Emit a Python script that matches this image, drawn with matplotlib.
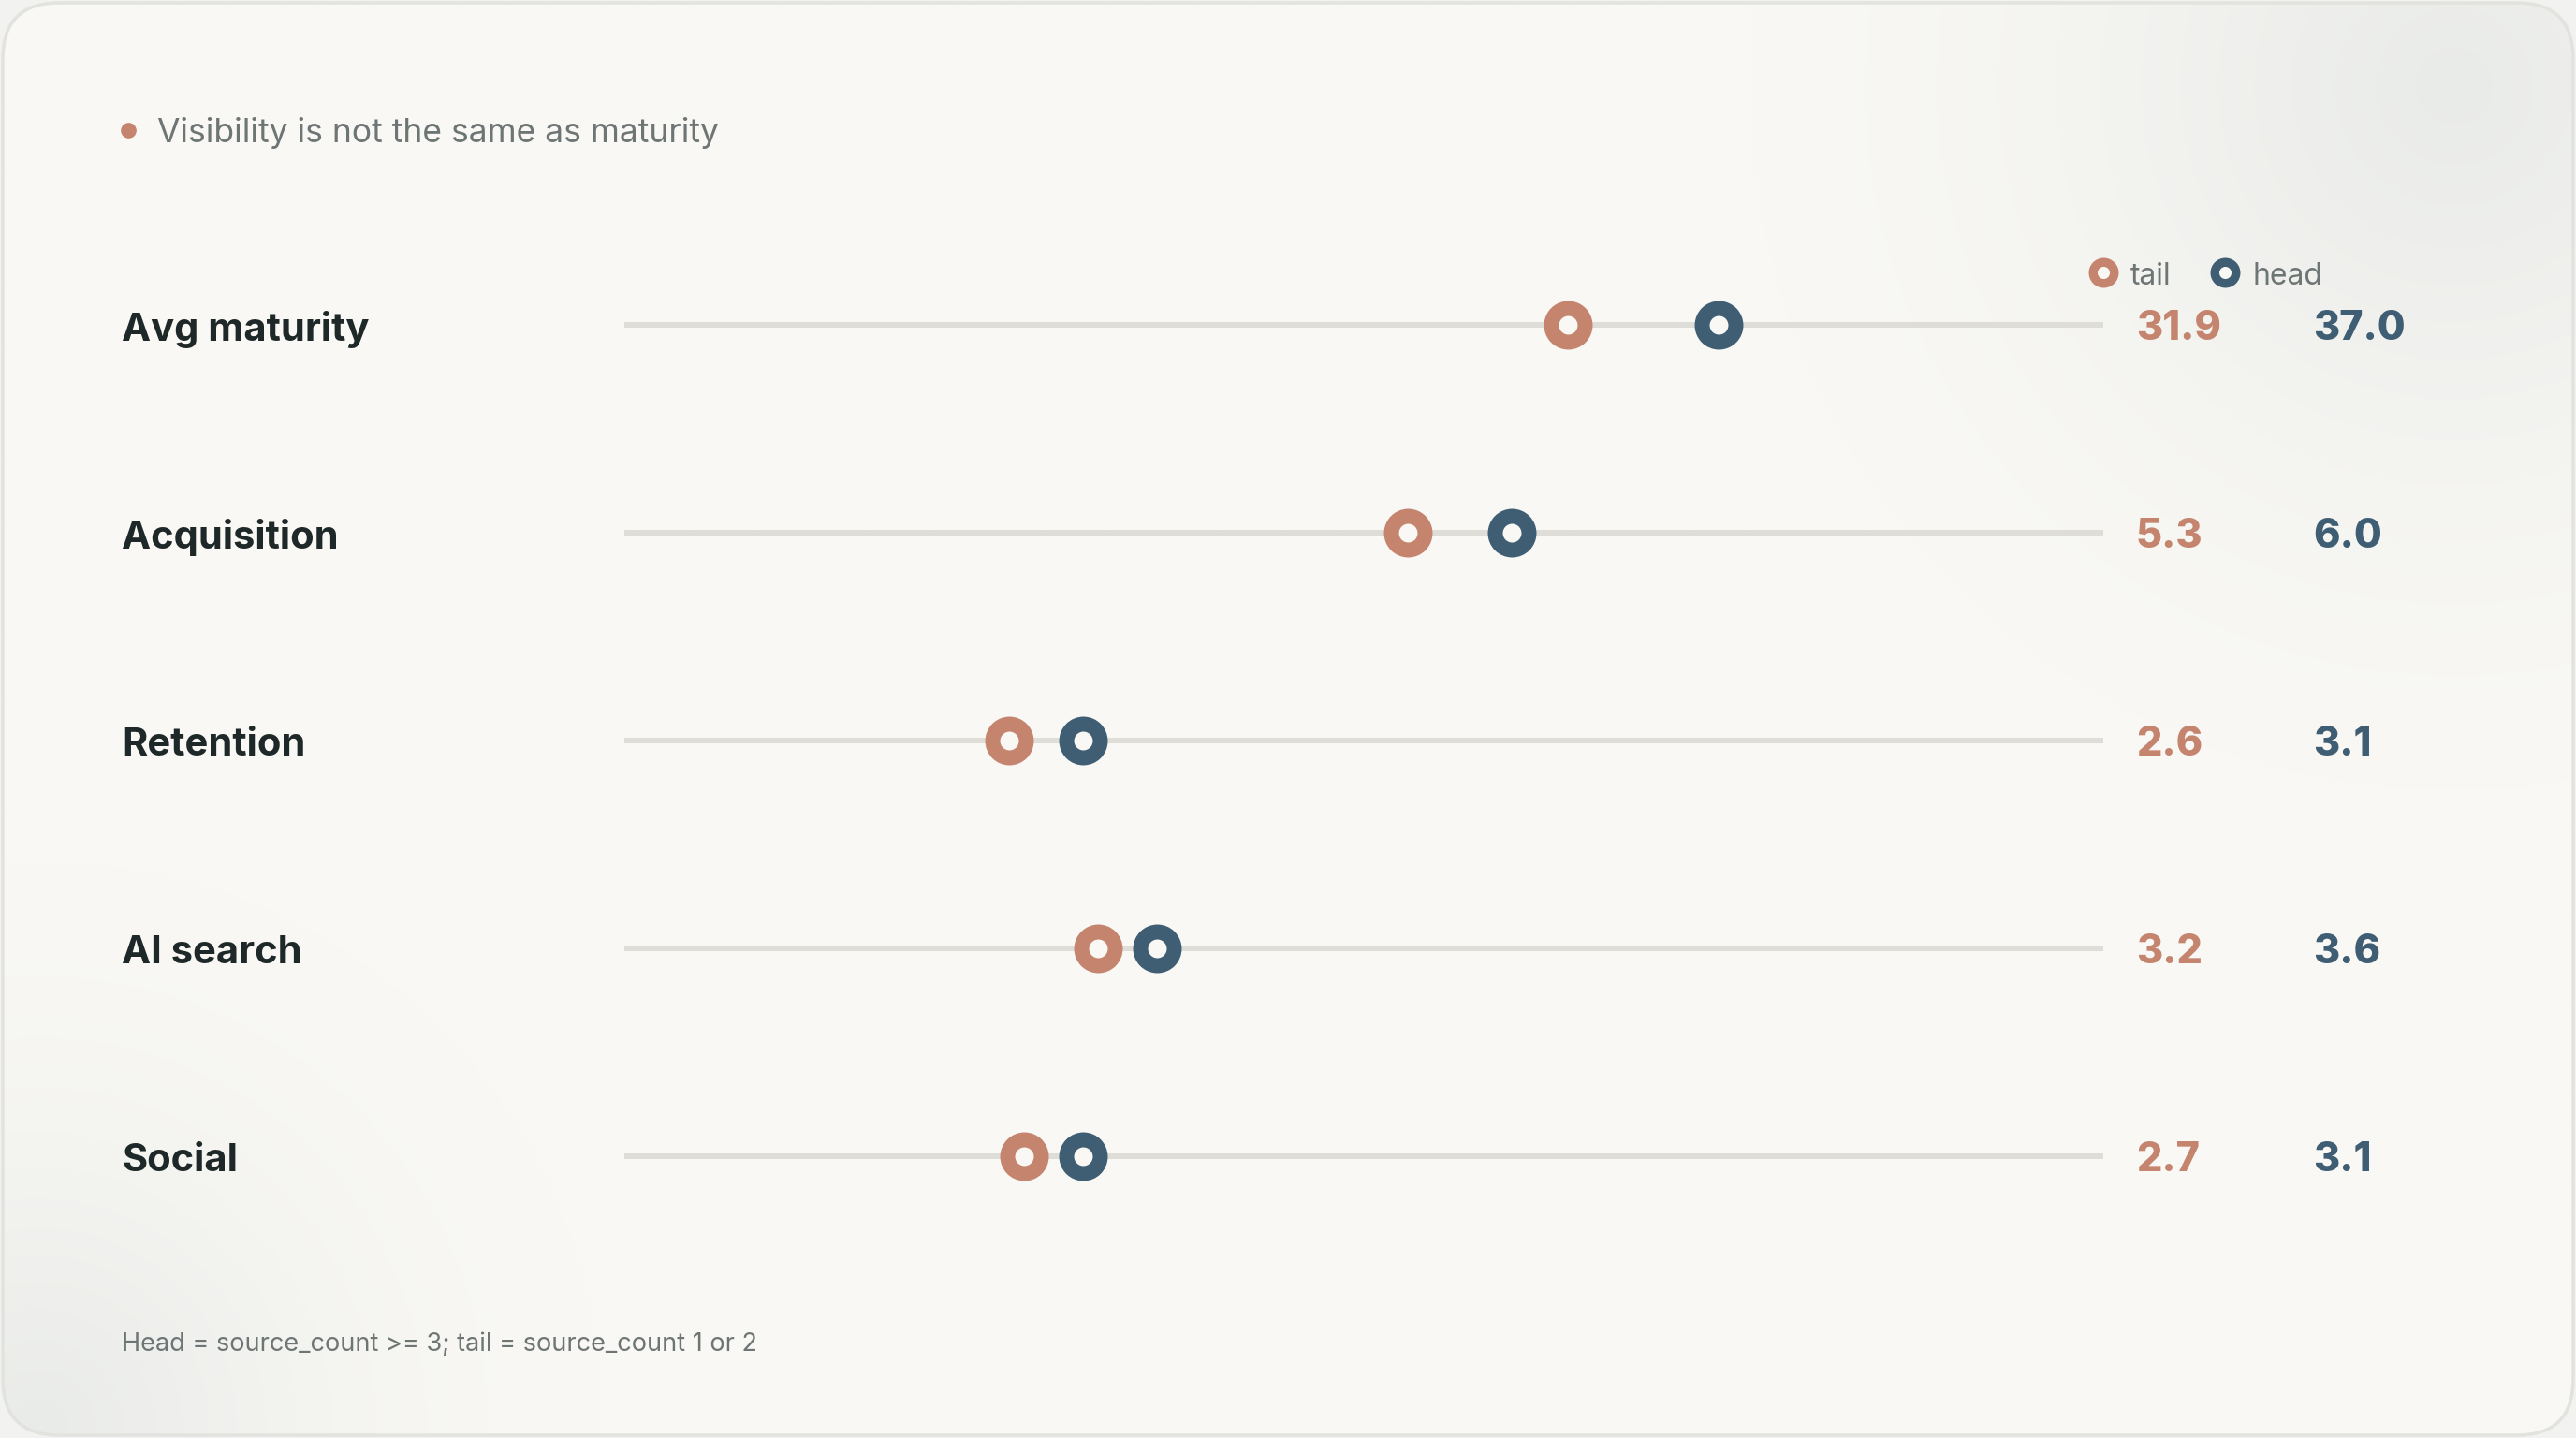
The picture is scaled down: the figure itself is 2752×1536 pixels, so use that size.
import numpy as np
import matplotlib
matplotlib.use("Agg")
import matplotlib.pyplot as plt
from matplotlib.patches import FancyBboxPatch
from matplotlib.transforms import blended_transform_factory

# ---- data ----
categories = ["Avg maturity", "Acquisition", "Retention", "AI search", "Social"]
tail_values = [31.9, 5.3, 2.6, 3.2, 2.7]
head_values = [37.0, 6.0, 3.1, 3.6, 3.1]
scale_max = [50, 10, 10, 10, 10]
title_text = "Visibility is not the same as maturity"
footnote_text = "Head = source_count >= 3; tail = source_count 1 or 2"
series_names = ["tail", "head"]

# ---- style ----
TAIL = "#C4846D"
HEAD = "#3F5E73"
TRACK = "#DEDDD8"
LABEL = "#1F2828"
MUTED = "#6E7575"
BG = "#F9F8F5"

W, H = 2752, 1536
fig = plt.figure(figsize=(W / 100, H / 100), dpi=100)
fig.patch.set_facecolor("#F2F2F0")

# background card with soft gradient
bg = fig.add_axes([0, 0, 1, 1])
bg.set_xlim(0, W)
bg.set_ylim(H, 0)
bg.axis("off")
yy, xx = np.mgrid[0:H:4, 0:W:4]
base = np.array([249, 248, 245], dtype=float) / 255
shade = np.array([233, 235, 232], dtype=float) / 255
d1 = np.sqrt((xx - 2620) ** 2 + (yy - 90) ** 2)
w1 = np.clip(1 - d1 / 750, 0, 1) ** 1.4
d2 = np.sqrt((xx - 40) ** 2 + (yy - 1520) ** 2)
w2 = np.clip(1 - d2 / 600, 0, 1) ** 1.6
w = np.clip(w1 + w2, 0, 1)[..., None]
img = base * (1 - w) + shade * w
card = FancyBboxPatch((3, 3), W - 6, H - 6, boxstyle="round,pad=0,rounding_size=60",
                      facecolor="none", edgecolor="#E2E2DF", linewidth=2.5, zorder=3)
bg.add_patch(card)
im = bg.imshow(img, extent=(0, W, H, 0), zorder=1, interpolation="bilinear")
im.set_clip_path(card)

# title
bg.plot([137], [139], marker="o", ms=11, color=TAIL, zorder=4)
bg.text(168, 142, title_text, fontsize=25.5, color=MUTED, family="Inter",
        va="center", ha="left", zorder=4)
# footnote
bg.text(130, 1436, footnote_text, fontsize=19.5, color=MUTED, family="Inter",
        va="center", ha="left", zorder=4)

# main dumbbell axes
x0, x1 = 667, 2247
row_top, row_gap = 347, 222
n = len(categories)
y_top = row_top - row_gap / 2
y_bot = row_top + row_gap * (n - 1) + row_gap / 2
ax = fig.add_axes([x0 / W, 1 - y_bot / H, (x1 - x0) / W, (y_bot - y_top) / H])
ax.set_xlim(0, 1)
ax.set_ylim(n - 0.5, -0.5)
ax.axis("off")
ax.patch.set_alpha(0)

dy = 0.022
tr = blended_transform_factory(ax.transAxes, ax.transData)
for i, cat in enumerate(categories):
    ax.plot([0, 1], [i, i], color=TRACK, lw=4.3, solid_capstyle="butt", zorder=1)
    t = tail_values[i] / scale_max[i]
    h = head_values[i] / scale_max[i]
    ax.plot([t], [i], marker="o", ms=25.9, mew=11.5, mec=TAIL, mfc=BG, zorder=3)
    ax.plot([h], [i], marker="o", ms=25.9, mew=11.5, mec=HEAD, mfc=BG, zorder=3)
    ax.text(-0.340, i + dy, cat, transform=tr, fontsize=30, fontweight="bold",
            family="Inter", color=LABEL, va="center", ha="left", clip_on=False)
    ax.text(1.022, i + dy, f"{tail_values[i]:.1f}", transform=tr, fontsize=31,
            fontweight="heavy", family="Inter", color=TAIL, va="center", ha="left",
            clip_on=False)
    ax.text(1.142, i + dy, f"{head_values[i]:.1f}", transform=tr, fontsize=31,
            fontweight="heavy", family="Inter", color=HEAD, va="center", ha="left",
            clip_on=False)

# legend
ly = -0.252
ax.plot([1.0], [ly], marker="o", ms=16.2, mew=6.8, mec=TAIL, mfc=BG,
        transform=tr, clip_on=False)
ax.text(1.018, ly + dy, series_names[0], transform=tr, fontsize=23, color=MUTED,
        family="Inter", va="center", ha="left", clip_on=False)
ax.plot([1.082], [ly], marker="o", ms=16.2, mew=6.8, mec=HEAD, mfc=BG,
        transform=tr, clip_on=False)
ax.text(1.101, ly + dy, series_names[1], transform=tr, fontsize=23, color=MUTED,
        family="Inter", va="center", ha="left", clip_on=False)

fig.savefig("out.png", dpi=100, facecolor=fig.get_facecolor())
